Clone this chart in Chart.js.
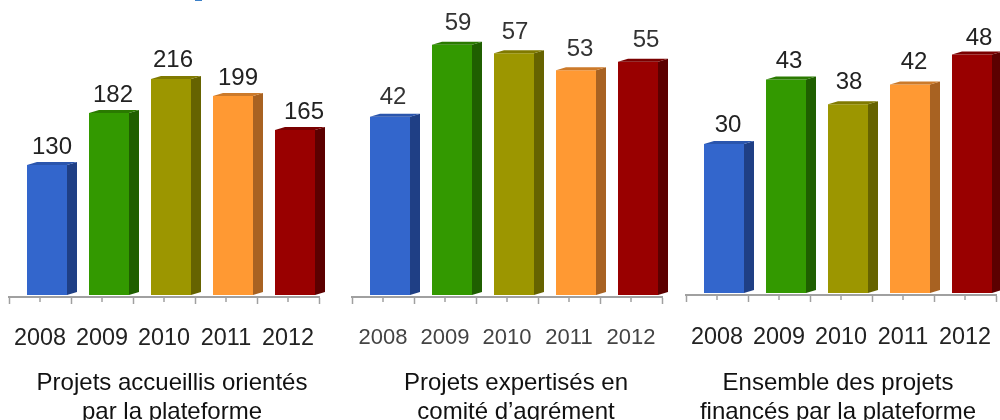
<!DOCTYPE html>
<html lang="fr"><head><meta charset="utf-8">
<script src="https://cdn.jsdelivr.net/npm/chart.js@4"></script>
<style>
html,body{margin:0;padding:0;background:#fff;width:1000px;height:420px;overflow:hidden}
canvas{position:absolute;top:0}
#stray{position:absolute;left:195px;top:0;width:7px;height:1px;background:#3b80c8}
</style></head><body>
<div id="stray"></div>
<canvas id="c1" style="left:0;filter:blur(.45px)"></canvas>
<canvas id="c2" style="left:344px;filter:blur(.7px)"></canvas>
<canvas id="c3" style="left:676px;filter:blur(.45px)"></canvas>
<script>
const years = ['2008','2009','2010','2011','2012'];
const accueillis = [130,182,216,199,165];
const expertises = [42,59,57,53,55];
const finances = [30,43,38,42,48];
const title1 = ['Projets accueillis orientés','par la plateforme'];
const title2 = ['Projets expertisés en','comité d’agrément'];
const title3 = ['Ensemble des projets','financés par la plateforme'];
const frontColors = ['#3366cc','#339900','#9c9600','#ff9933','#990000'];
const sideColors = ['#1f3f85','#1f5f00','#666300','#a86222','#5c0000'];
const topColors = ['#2a55ad','#2a7a00','#807a00','#cc7a2a','#7a0000'];
const FONT = '"Liberation Sans", Arial, sans-serif';
const DX = 10, DY = 3, TITLE_LINE = 29;

const bars3d = {
  id:'bars3d',
  afterLayout(chart){
    chart.titleBlock.left = 0;
    chart.titleBlock.right = chart.width;
  },
  beforeDatasetsDraw(chart){
    const o = chart.options.plugins.bars3d;
    chart.ctx.save();
    chart.ctx.translate(o.shiftX, o.shiftY);
  },
  afterDatasetsDraw(chart){
    const o = chart.options.plugins.bars3d, ctx = chart.ctx;
    const meta = chart.getDatasetMeta(0), data = chart.data.datasets[0].data;
    meta.data.forEach((b,i)=>{
      const p = b.getProps(['x','y','base','width'],true);
      const x0 = p.x-p.width/2, x1 = p.x+p.width/2;
      ctx.fillStyle = sideColors[i];
      ctx.beginPath();
      ctx.moveTo(x1,p.y);ctx.lineTo(x1+DX,p.y-DY);ctx.lineTo(x1+DX,p.base-DY);ctx.lineTo(x1,p.base);
      ctx.closePath();ctx.fill();
      ctx.fillStyle = topColors[i];
      ctx.beginPath();
      ctx.moveTo(x0,p.y);ctx.lineTo(x0+DX,p.y-DY);ctx.lineTo(x1+DX,p.y-DY);ctx.lineTo(x1,p.y);
      ctx.closePath();ctx.fill();
    });
    ctx.restore();
    const xs = chart.scales.x, bottom = chart.chartArea.bottom;
    ctx.save();
    ctx.strokeStyle = o.axisColor; ctx.lineWidth = 1.5;
    years.forEach((_,i)=>{
      const x = xs.getPixelForTick(i);
      ctx.beginPath();ctx.moveTo(x,bottom);ctx.lineTo(x,bottom+5);ctx.stroke();
    });
    ctx.fillStyle = o.labelColor;
    ctx.font = o.labelSize+'px '+FONT;
    ctx.textAlign='center';ctx.textBaseline='middle';
    meta.data.forEach((b,i)=>{
      ctx.fillText(String(data[i]), b.x+o.shiftX+DX/2+o.nudgeX[i], b.y+o.shiftY-o.labelGap+o.nudgeY[i]);
    });
    ctx.restore();
  }
};

function panel(id,width,padL,padR,values,yMax,areaH,title,s){
  const canvas = document.getElementById(id);
  canvas.width = width; canvas.height = 430;
  canvas.style.width = width+'px'; canvas.style.height = '430px';
  const titleH = 2*TITLE_LINE + s.titleBottom;
  new Chart(canvas,{
    type:'bar',
    data:{labels:years,datasets:[{data:values,backgroundColor:frontColors,borderWidth:0,
      barPercentage:40/62,categoryPercentage:1,clip:false}]},
    plugins:[bars3d],
    options:{
      responsive:false,animation:false,
      layout:{padding:{left:padL,right:padR,top:0,bottom:0}},
      plugins:{
        legend:{display:false},tooltip:{enabled:false},
        title:{display:true,position:'bottom',text:title,color:'#111',
          font:{family:FONT,size:s.titleSize,weight:'normal',lineHeight:TITLE_LINE/s.titleSize},
          padding:{top:0,bottom:s.titleBottom}},
        bars3d:{shiftX:7,shiftY:-2,axisColor:'#a0a0a0',labelColor:s.labelColor,labelSize:s.labelSize,labelGap:s.labelGap,nudgeX:s.nudgeX,nudgeY:s.nudgeY}
      },
      scales:{
        y:{display:false,min:0,max:yMax},
        x:{
          afterFit(sc){sc.height = 430-titleH-areaH;sc.paddingLeft=0;sc.paddingRight=0;},
          border:{color:'#a0a0a0',width:2},
          grid:{display:true,offset:true,drawOnChartArea:false,drawTicks:true,tickLength:7,tickWidth:1.5,tickColor:'#a0a0a0',color:'#a0a0a0'},
          ticks:{autoSkip:false,maxRotation:0,padding:s.tickPad,color:s.tickColor,font:{family:FONT,size:s.tickSize}}
        }
      }
    }
  });
}
panel('c1',344,9,25,accueillis,297,297,title1,{titleSize:24,titleBottom:3.5,labelSize:24,labelGap:18,labelColor:'#222',tickPad:21,tickSize:23.4,tickColor:'#222',nudgeX:[0,-1,-3,0,4],nudgeY:[0,0,-1,0,0]});
panel('c2',344,8,26,expertises,70,297,title2,{titleSize:24,titleBottom:3.5,labelSize:24,labelGap:21,labelColor:'#333',tickPad:21,tickSize:22,tickColor:'#444',nudgeX:[-2,1,-4,-1,3],nudgeY:[2,0,0,0,0]});
panel('c3',324,10,4,finances,59.4,295,title3,{titleSize:24,titleBottom:3.5,labelSize:24,labelGap:21,labelColor:'#222',tickPad:22,tickSize:23.4,tickColor:'#222',nudgeX:[-1,-2,-4,-1,2],nudgeY:[2,3,-1,-1,5]});
</script>
</body></html>
